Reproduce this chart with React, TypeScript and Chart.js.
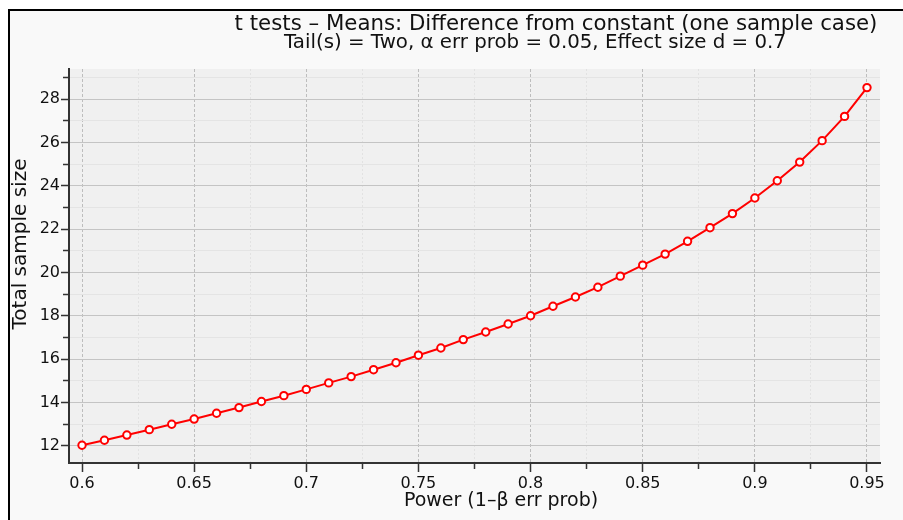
import { useEffect, useRef } from "react";
import { Chart, registerables } from "chart.js";

Chart.register(...registerables);

const POWER = [
  0.6, 0.61, 0.62, 0.63, 0.64, 0.65, 0.66, 0.67, 0.68, 0.69, 0.7, 0.71,
  0.72, 0.73, 0.74, 0.75, 0.76, 0.77, 0.78, 0.79, 0.8, 0.81, 0.82, 0.83,
  0.84, 0.85, 0.86, 0.87, 0.88, 0.89, 0.9, 0.91, 0.92, 0.93, 0.94, 0.95,
];
const SAMPLE_SIZE = [
  12.02, 12.25, 12.49, 12.74, 12.99, 13.23, 13.5, 13.76, 14.04, 14.31, 14.6,
  14.9, 15.19, 15.51, 15.83, 16.18, 16.51, 16.9, 17.25, 17.62, 18.0, 18.44,
  18.87, 19.32, 19.83, 20.34, 20.85, 21.44, 22.07, 22.72, 23.44, 24.24, 25.1,
  26.09, 27.21, 28.54,
];
const X_MAJOR_TICKS = [0.6, 0.65, 0.7, 0.75, 0.8, 0.85, 0.9, 0.95];
const X_TICK_LABELS = ["0.6", "0.65", "0.7", "0.75", "0.8", "0.85", "0.9", "0.95"];
const X_MINOR_TICKS = [0.625, 0.675, 0.725, 0.775, 0.825, 0.875, 0.925];
const Y_MAJOR_TICKS = [12, 14, 16, 18, 20, 22, 24, 26, 28];
const Y_TICK_LABELS = ["12", "14", "16", "18", "20", "22", "24", "26", "28"];
const Y_MINOR_TICKS = [13, 15, 17, 19, 21, 23, 25, 27, 29];

const TITLE = "t tests – Means: Difference from constant (one sample case)";
const SUBTITLE = "Tail(s) = Two, α err prob = 0.05, Effect size d = 0.7";
const X_TITLE = "Power (1–β err prob)";
const Y_TITLE = "Total sample size";

const FONT = "'DejaVu Sans', sans-serif";
const X_MIN = 0.5942;
const X_MAX = 0.9558;
const Y_MIN = 11.2;
const Y_MAX = 29.4;

const plotBackground = {
  id: "plotBackground",
  beforeDraw(chart: any) {
    const { ctx, chartArea } = chart;
    ctx.save();
    ctx.fillStyle = "#f0f0f0";
    ctx.fillRect(chartArea.left, chartArea.top, chartArea.right - chartArea.left, chartArea.bottom - chartArea.top);
    ctx.restore();
  },
};

const textLayer = {
  id: "textLayer",
  afterDraw(chart: any) {
    const { ctx } = chart;
    ctx.save();
    ctx.fillStyle = "#111";
    ctx.textAlign = "center";
    ctx.textBaseline = "alphabetic";
    ctx.font = `21.3px ${FONT}`;
    ctx.fillText(TITLE, 546, 19);
    ctx.font = `19.8px ${FONT}`;
    ctx.fillText(SUBTITLE, 525, 37);
    ctx.font = `19px ${FONT}`;
    ctx.fillText(X_TITLE, 491, 495);
    ctx.translate(16, 233);
    ctx.rotate(-Math.PI / 2);
    ctx.font = `20px ${FONT}`;
    ctx.fillText(Y_TITLE, 0, 0);
    ctx.restore();
  },
};

export default function App() {
  const ref = useRef<HTMLCanvasElement | null>(null);

  useEffect(() => {
    if (!ref.current) return;
    const chart = new Chart(ref.current, {
      type: "line",
      data: {
        datasets: [
          {
            data: POWER.map((p, i) => ({ x: p, y: SAMPLE_SIZE[i] })),
            borderColor: "#ff0000",
            borderWidth: 2,
            pointRadius: 3.7,
            pointBorderWidth: 2,
            pointBackgroundColor: "#ffffff",
            pointBorderColor: "#ff0000",
            tension: 0,
            xAxisID: "x",
            yAxisID: "y",
          },
        ],
      },
      options: {
        animation: false,
        responsive: false,
        devicePixelRatio: 1,
        layout: { padding: { top: 58, right: 23, left: 0, bottom: 0 } },
        plugins: {
          legend: { display: false },
          title: { display: false },
          tooltip: { enabled: false },
        },
        scales: {
          x: {
            type: "linear",
            position: "bottom",
            weight: 1,
            min: X_MIN,
            max: X_MAX,
            afterBuildTicks: (s: any) => {
              s.ticks = X_MAJOR_TICKS.map((v) => ({ value: v }));
            },
            afterFit: (s: any) => {
              s.height = 57;
            },
            ticks: {
              autoSkip: false,
              maxRotation: 0,
              padding: 2,
              color: "#111",
              font: { family: FONT, size: 16 },
              callback: (_v: any, i: number) => X_TICK_LABELS[i],
            },
            grid: { color: "#bdbdbd", lineWidth: 1, tickLength: 9, tickColor: "#333", tickWidth: 1.5 },
            border: { display: true, color: "#333", width: 2, dash: [3, 2] },
          },
          x2: {
            type: "linear",
            position: "bottom",
            weight: 0,
            min: X_MIN,
            max: X_MAX,
            afterBuildTicks: (s: any) => {
              s.ticks = X_MINOR_TICKS.map((v) => ({ value: v }));
            },
            afterFit: (s: any) => {
              s.height = 0;
            },
            ticks: { display: false },
            grid: { color: "#e2e2e2", lineWidth: 1, tickLength: 6, tickColor: "#333", tickWidth: 1.5 },
            border: { display: false, dash: [2, 2] },
          },
          y: {
            type: "linear",
            position: "left",
            weight: 1,
            min: Y_MIN,
            max: Y_MAX,
            afterBuildTicks: (s: any) => {
              s.ticks = Y_MAJOR_TICKS.map((v) => ({ value: v }));
            },
            afterFit: (s: any) => {
              s.width = 59;
            },
            ticks: {
              autoSkip: false,
              padding: 1,
              color: "#111",
              font: { family: FONT, size: 16 },
              callback: (_v: any, i: number) => Y_TICK_LABELS[i],
            },
            grid: { color: "#c4c4c4", lineWidth: 1, tickLength: 8, tickColor: "#333", tickWidth: 1.5 },
            border: { display: true, color: "#333", width: 2 },
          },
          y2: {
            type: "linear",
            position: "left",
            weight: 0,
            min: Y_MIN,
            max: Y_MAX,
            afterBuildTicks: (s: any) => {
              s.ticks = Y_MINOR_TICKS.map((v) => ({ value: v }));
            },
            afterFit: (s: any) => {
              s.width = 0;
            },
            ticks: { display: false },
            grid: { color: "#e4e4e4", lineWidth: 1, tickLength: 6, tickColor: "#333", tickWidth: 1.5 },
            border: { display: false },
          },
        },
      },
      plugins: [plotBackground, textLayer],
    } as any);
    return () => chart.destroy();
  }, []);

  return (
    <div
      style={{
        position: "fixed",
        left: 8,
        top: 9,
        width: 900,
        height: 520,
        border: "2px solid #000",
        background: "#f9f9f9",
        overflow: "hidden",
      }}
    >
      <canvas ref={ref} width={893} height={509} style={{ display: "block" }} />
    </div>
  );
}
